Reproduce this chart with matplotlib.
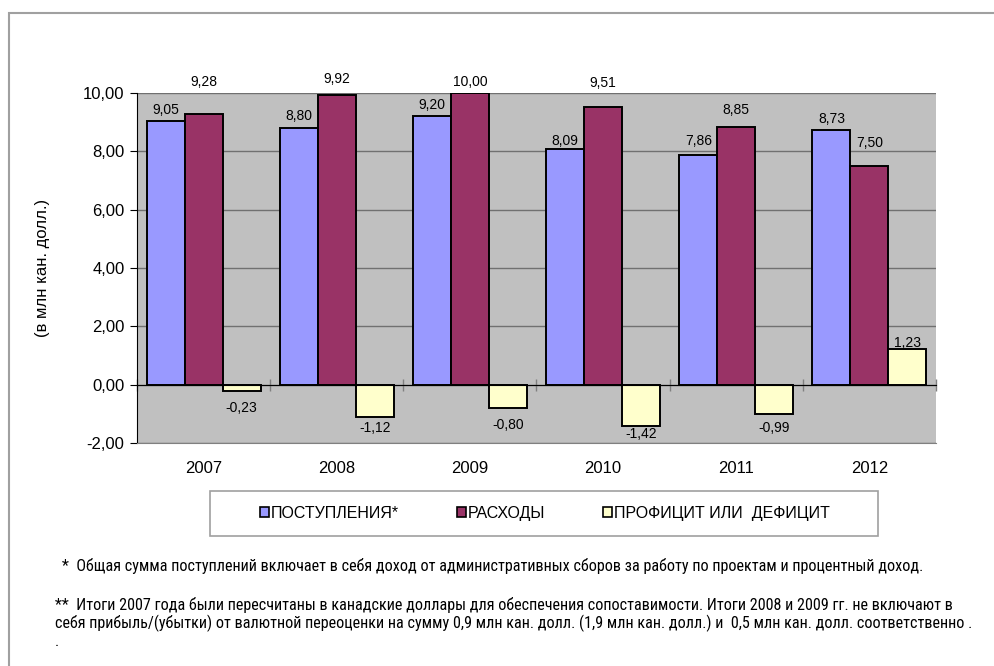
"""
Revenue / expenses / balance bar chart, 2007-2012
"""
import matplotlib
matplotlib.use("Agg")
import matplotlib.pyplot as plt
from matplotlib.patches import Rectangle
from matplotlib.ticker import FuncFormatter, FixedLocator

plt.rcParams['font.family'] = ['Liberation Sans', 'DejaVu Sans']

# data
years = ['2007', '2008', '2009', '2010', '2011', '2012']
revenue = [9.05, 8.80, 9.20, 8.09, 7.86, 8.73]
expenses = [9.28, 9.92, 10.00, 9.51, 8.85, 7.50]
balance = [-0.23, -1.12, -0.80, -1.42, -0.99, 1.23]
series_names = ['ПОСТУПЛЕНИЯ*', 'РАСХОДЫ', 'ПРОФИЦИТ ИЛИ  ДЕФИЦИТ']
y_label = '(в млн кан. долл.)'
notes = [
    '*  Общая сумма поступлений включает в себя доход от административных '
    'сборов за работу по проектам и процентный доход.',
    '**  Итоги 2007 года были пересчитаны в канадские доллары для обеспечения '
    'сопоставимости. Итоги 2008 и 2009 гг. не включают в\n'
    'себя прибыль/(убытки) от валютной переоценки на сумму 0,9 млн кан. долл. '
    '(1,9 млн кан. долл.) и  0,5 млн кан. долл. соответственно .\n.',
]

# styles
colors = ['#9999FF', '#993366', '#FFFFCC']
# label distance from bar end (pixels), as placed in the original
label_gap = [
    [11, 12, 11, 8, 14, 11],
    [32, 16, 11, 24, 17, 23],
    [17, 11, 17, 8, 14, 6],
]

W, H = 995, 666
fig = plt.figure(figsize=(W / 100, H / 100), dpi=100)
ax = fig.add_axes([137 / W, 1 - 443 / H, (936 - 137) / W, (443 - 93) / H])
ax.set_facecolor('#C0C0C0')

x = list(range(len(years)))
width = 0.285
data = [revenue, expenses, balance]
for k, vals in enumerate(data):
    pos = [i + (k - 1) * width for i in x]
    ax.bar(pos, vals, width, color=colors[k], edgecolor='black',
           linewidth=1.4, label=series_names[k], zorder=3)
    for i, v in enumerate(vals):
        gap = label_gap[k][i] * 0.72
        off = gap if v >= 0 else -gap
        ax.annotate(f'{v:.2f}'.replace('.', ','), (pos[i], v),
                    xytext=(0, off), textcoords='offset points',
                    ha='center', va='center', fontsize=10,
                    annotation_clip=False, zorder=5)

ax.set_xlim(-0.5, len(years) - 0.5)
ax.set_ylim(-2, 10)
ax.set_yticks([-2, 0, 2, 4, 6, 8, 10])
ax.yaxis.set_major_formatter(
    FuncFormatter(lambda v, p: f'{v:.2f}'.replace('.', ',')))
ax.grid(axis='y', color='#707070', linewidth=1, zorder=1)
ax.set_axisbelow(True)

ax.set_xticks(x)
ax.set_xticklabels(years)
ax.xaxis.set_minor_locator(FixedLocator([i + 0.5 for i in range(-1, len(years))]))
ax.tick_params(axis='x', which='major', length=0, pad=13, labelsize=12)
ax.tick_params(axis='x', which='minor', bottom=False, top=True,
               direction='inout', length=9, color='#808080', width=1)
ax.tick_params(axis='y', which='major', length=5, color='black',
               labelsize=12, pad=4)

# category axis crosses at zero
ax.spines['top'].set_position(('data', 0))
ax.spines['top'].set_color('black')
ax.spines['top'].set_zorder(4)
ax.spines['left'].set_color('black')
ax.spines['bottom'].set_color('#808080')
ax.spines['right'].set_visible(False)

ax.set_ylabel(y_label, fontsize=12, labelpad=24)

# legend: frameless entries inside a wider box
leg = fig.legend(loc='center', bbox_to_anchor=(545 / W, 1 - 513.5 / H),
                 ncol=3, fontsize=11.5, frameon=False,
                 handlelength=0.55, handleheight=0.6,
                 handletextpad=0.15, columnspacing=3.6, borderaxespad=0)
for h in leg.legend_handles:
    h.set_linewidth(1.2)
fig.patches.append(Rectangle((210 / W, 1 - 536 / H), (878 - 210) / W, 45 / H,
                             transform=fig.transFigure, fill=False,
                             edgecolor='#A0A0A0', linewidth=1.2))

note_font = ['Roboto Condensed', 'DejaVu Sans']
fig.text(62 / W, 1 - 566 / H, notes[0], fontsize=11.6, family=note_font,
         va='center', ha='left')
fig.text(55 / W, 1 - 597 / H, notes[1], fontsize=11.6, family=note_font,
         va='top', ha='left', linespacing=1.15)

# outer frame
fig.patches.append(Rectangle((9 / W, -0.1), 1.2, 1.1 - 13 / H,
                             transform=fig.transFigure, fill=False,
                             edgecolor='#A0A0A0', linewidth=1.5))

fig.savefig('out.png', dpi=100)
